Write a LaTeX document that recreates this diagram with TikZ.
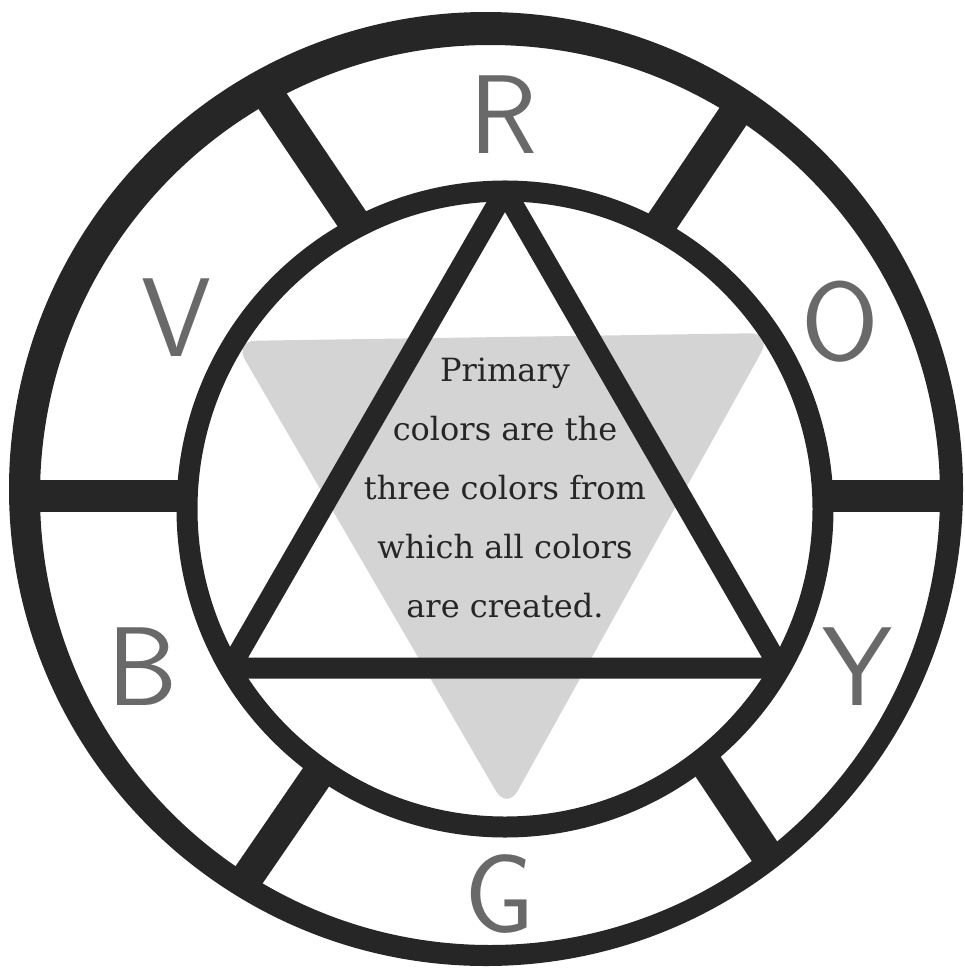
\documentclass[tikz,border=0pt]{standalone}
\usepackage{fontspec}
\newfontfamily\bodyfont{DejaVu Serif}
\definecolor{ink}{RGB}{38,38,38}
\definecolor{greyfill}{RGB}{212,212,212}
\definecolor{lettergray}{RGB}{105,105,105}
\begin{document}
\begin{tikzpicture}[x=1pt,y=-1pt,
  spoke/.style={draw=ink,line width=32pt,line cap=butt},
  ringline/.style={draw=ink,line width=21pt},
  letter/.style={text=lettergray,inner sep=0pt,font=\sffamily\fontsize{112}{112}\selectfont},
  bodytext/.style={text=ink,align=center,inner sep=0pt,font=\bodyfont\fontsize{32}{59}\selectfont}]
\useasboundingbox (0,0) rectangle (965,975);
\fill[white] (0,0) rectangle (965,975);
% grey inverted triangle
\fill[greyfill,rounded corners=22pt] (234,341) -- (772,333) -- (507,810) -- cycle;
% coordinates
\coordinate (oc) at (486,489);
\coordinate (ic) at (490,495);
\coordinate (cc) at (505,509);
% spokes
\coordinate (s1a) at (263,87);  \coordinate (s1b) at (356,225);
\coordinate (s2a) at (740,106); \coordinate (s2b) at (660,225);
\coordinate (s3a) at (240,888); \coordinate (s3b) at (321,770);
\coordinate (s4a) at (773,864); \coordinate (s4b) at (703,759);
\coordinate (s5a) at (20,496);  \coordinate (s5b) at (190,496);
\coordinate (s6a) at (955,496); \coordinate (s6b) at (820,496);
\draw[spoke] (s1a) -- (s1b);
\draw[spoke] (s2a) -- (s2b);
\draw[spoke] (s3a) -- (s3b);
\draw[spoke] (s4a) -- (s4b);
\draw[spoke] (s5a) -- (s5b);
\draw[spoke] (s6a) -- (s6b);
% outer ring
\fill[ink,even odd rule] (oc) circle[radius=477] (ic) circle[radius=450];
% inner circle
\draw[ringline] (cc) circle[radius=318];
% triangle
\coordinate (ta) at (505,191);
\coordinate (tl) at (230,668);
\coordinate (tr) at (780,668);
\draw[ringline,line join=round] (ta) -- (tr) -- (tl) -- cycle;
% text
\node[bodytext] (txt) at (505,488) {Primary\\colors are the\\three colors from\\which all colors\\are created.};
% letters
\node[letter] (R) at (503,115) {R};
\node[letter] (O) at (840,322) {O};
\node[letter] (Y) at (857,667) {Y};
\node[letter] (G) at (500,894) {G};
\node[letter] (B) at (143,667) {B};
\node[letter] (V) at (176,318) {V};
\end{tikzpicture}
\end{document}
